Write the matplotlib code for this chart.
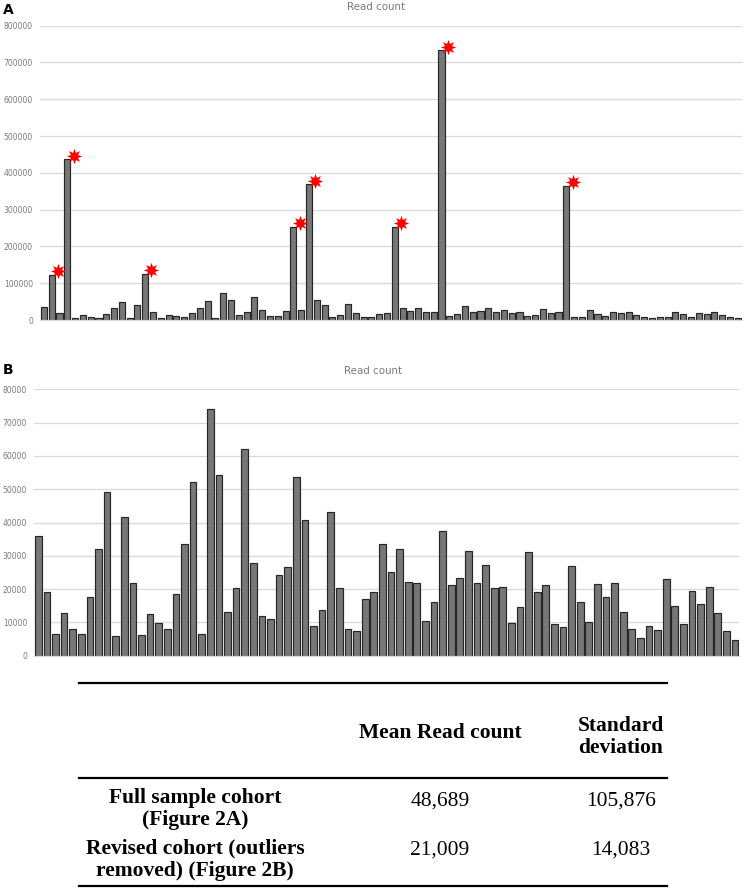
import matplotlib
matplotlib.use("Agg")
import matplotlib.pyplot as plt
import numpy as np
from matplotlib.lines import Line2D

# ---------------- data ----------------
read_count_full = [
    36000, 122000, 19200, 437000, 6500, 12700, 8100, 6500, 17600, 32100,
    49300, 5900, 41700, 126000, 21800, 6300, 12600, 9700, 8100, 18600,
    33500, 52200, 6500, 74000, 54400, 13200, 20400, 62200, 27800, 11900,
    10900, 24200, 254000, 26700, 369000, 53800, 40900, 9000, 13600, 43200,
    20200, 8100, 7300, 17100, 19200, 254000, 33600, 25200, 32100, 22100,
    21800, 733000, 10500, 16000, 37300, 21200, 23200, 31500, 21800, 27200,
    20200, 20500, 9700, 14700, 31000, 19000, 21100, 364000, 9500, 8600,
    26900, 16000, 10100, 21400, 17700, 21700, 13000, 8000, 5300, 8900,
    7700, 23100, 15000, 9400, 19300, 15500, 20700, 12700, 7500, 4800,
]
outlier_idx = [1, 3, 13, 32, 34, 45, 51, 67]

read_count_revised = [
    36000, 19200, 6500, 12700, 8100, 6500, 17600, 32100, 49300, 5900,
    41700, 21800, 6300, 12600, 9700, 8100, 18600, 33500, 52200, 6500,
    74000, 54400, 13200, 20400, 62200, 27800, 11900, 10900, 24200, 26700,
    53800, 40900, 9000, 13600, 43200, 20200, 8100, 7300, 17100, 19200,
    33600, 25200, 32100, 22100, 21800, 10500, 16000, 37300, 21200, 23200,
    31500, 21800, 27200, 20200, 20500, 9700, 14700, 31000, 19000, 21100,
    9500, 8600, 26900, 16000, 10100, 21400, 17700, 21700, 13000, 8000,
    5300, 8900, 7700, 23100, 15000, 9400, 19300, 15500, 20700, 12700,
    7500, 4800,
]

chart_title = "Read count"
ticks_a = list(range(0, 800001, 100000))
ticks_b = list(range(0, 80001, 10000))

table_header = ["Mean Read count", "Standard\ndeviation"]
table_rows = ["Full sample cohort\n(Figure 2A)", "Revised cohort (outliers\nremoved) (Figure 2B)"]
table_means = ["48,689", "21,009"]
table_sds = ["105,876", "14,083"]

# ---------------- style ----------------
W, H = 745, 889
DPI = 100
fig = plt.figure(figsize=(W / DPI, H / DPI), dpi=DPI)

BAR_FC = "#777777"
BAR_EC = "#262626"
GRID_C = "#d9d9d9"
TXT_C = "#7a7a7a"


def px_axes(left, top, right, bottom):
    return fig.add_axes([left / W, 1 - bottom / H, (right - left) / W, (bottom - top) / H])


def style_bar_axes(ax, ticks, n):
    ax.set_xlim(-0.5, n - 0.5)
    ax.set_ylim(0, ticks[-1])
    ax.set_yticks(ticks)
    ax.set_yticklabels([str(t) for t in ticks], fontsize=5.5, color=TXT_C)
    ax.tick_params(axis="y", length=0, pad=5)
    ax.set_xticks([])
    for s in ["top", "right", "left"]:
        ax.spines[s].set_visible(False)
    ax.spines["bottom"].set_color(GRID_C)
    ax.spines["bottom"].set_linewidth(0.9)
    ax.yaxis.grid(True, color=GRID_C, linewidth=0.9)
    ax.set_axisbelow(True)


# Panel A
axA = px_axes(40, 25.7, 741.7, 320)
xA = np.arange(len(read_count_full))
axA.bar(xA, read_count_full, width=0.78, color=BAR_FC, edgecolor=BAR_EC, linewidth=0.85)
style_bar_axes(axA, ticks_a, len(read_count_full))
ox = np.array(outlier_idx)
oy = np.array([read_count_full[i] for i in outlier_idx])
axA.plot(ox + 0.8, oy + 10000, linestyle="none", marker=(8, 1, 0), color="#ff0000",
         markersize=11, markeredgewidth=0, clip_on=False, zorder=5)
fig.text(376 / W, 1 - 7 / H, chart_title, ha="center", va="center", fontsize=7.4, color=TXT_C)
fig.text(3 / W, 1 - 9.5 / H, "A", ha="left", va="center", fontsize=10, fontweight="bold", color="black")

# Panel B
axB = px_axes(34, 389.3, 739.3, 655.7)
xB = np.arange(len(read_count_revised))
axB.bar(xB, read_count_revised, width=0.78, color=BAR_FC, edgecolor=BAR_EC, linewidth=0.85)
style_bar_axes(axB, ticks_b, len(read_count_revised))
fig.text(373 / W, 1 - 371 / H, chart_title, ha="center", va="center", fontsize=7.4, color=TXT_C)
fig.text(3 / W, 1 - 370.5 / H, "B", ha="left", va="center", fontsize=10, fontweight="bold", color="black")

# Table
axT = fig.add_axes([0, 0, 1, 1])
axT.set_xlim(0, W)
axT.set_ylim(H, 0)
axT.axis("off")
axT.patch.set_alpha(0)
for yl in [682.5, 778, 886]:
    axT.add_line(Line2D([79, 667], [yl, yl], color="black", linewidth=1.6))

serif = ["Liberation Serif", "DejaVu Serif"]
axT.text(440, 733, table_header[0], ha="center", va="center", fontsize=15.5,
         fontweight="bold", family=serif)
axT.text(621, 737, table_header[1], ha="center", va="center", fontsize=15.5,
         fontweight="bold", family=serif, linespacing=1.15)
row_y = [809, 860]
for i in range(2):
    axT.text(195, row_y[i], table_rows[i], ha="center", va="center", fontsize=15.5,
             fontweight="bold", family=serif, linespacing=1.15)
    axT.text(440, row_y[i] - 8 - 2 * i, table_means[i], ha="center", va="center",
             fontsize=15.5, family=serif)
    axT.text(621, row_y[i] - 8 - 2 * i, table_sds[i], ha="center", va="center",
             fontsize=15.5, family=serif)

fig.savefig("out.png", dpi=DPI)
